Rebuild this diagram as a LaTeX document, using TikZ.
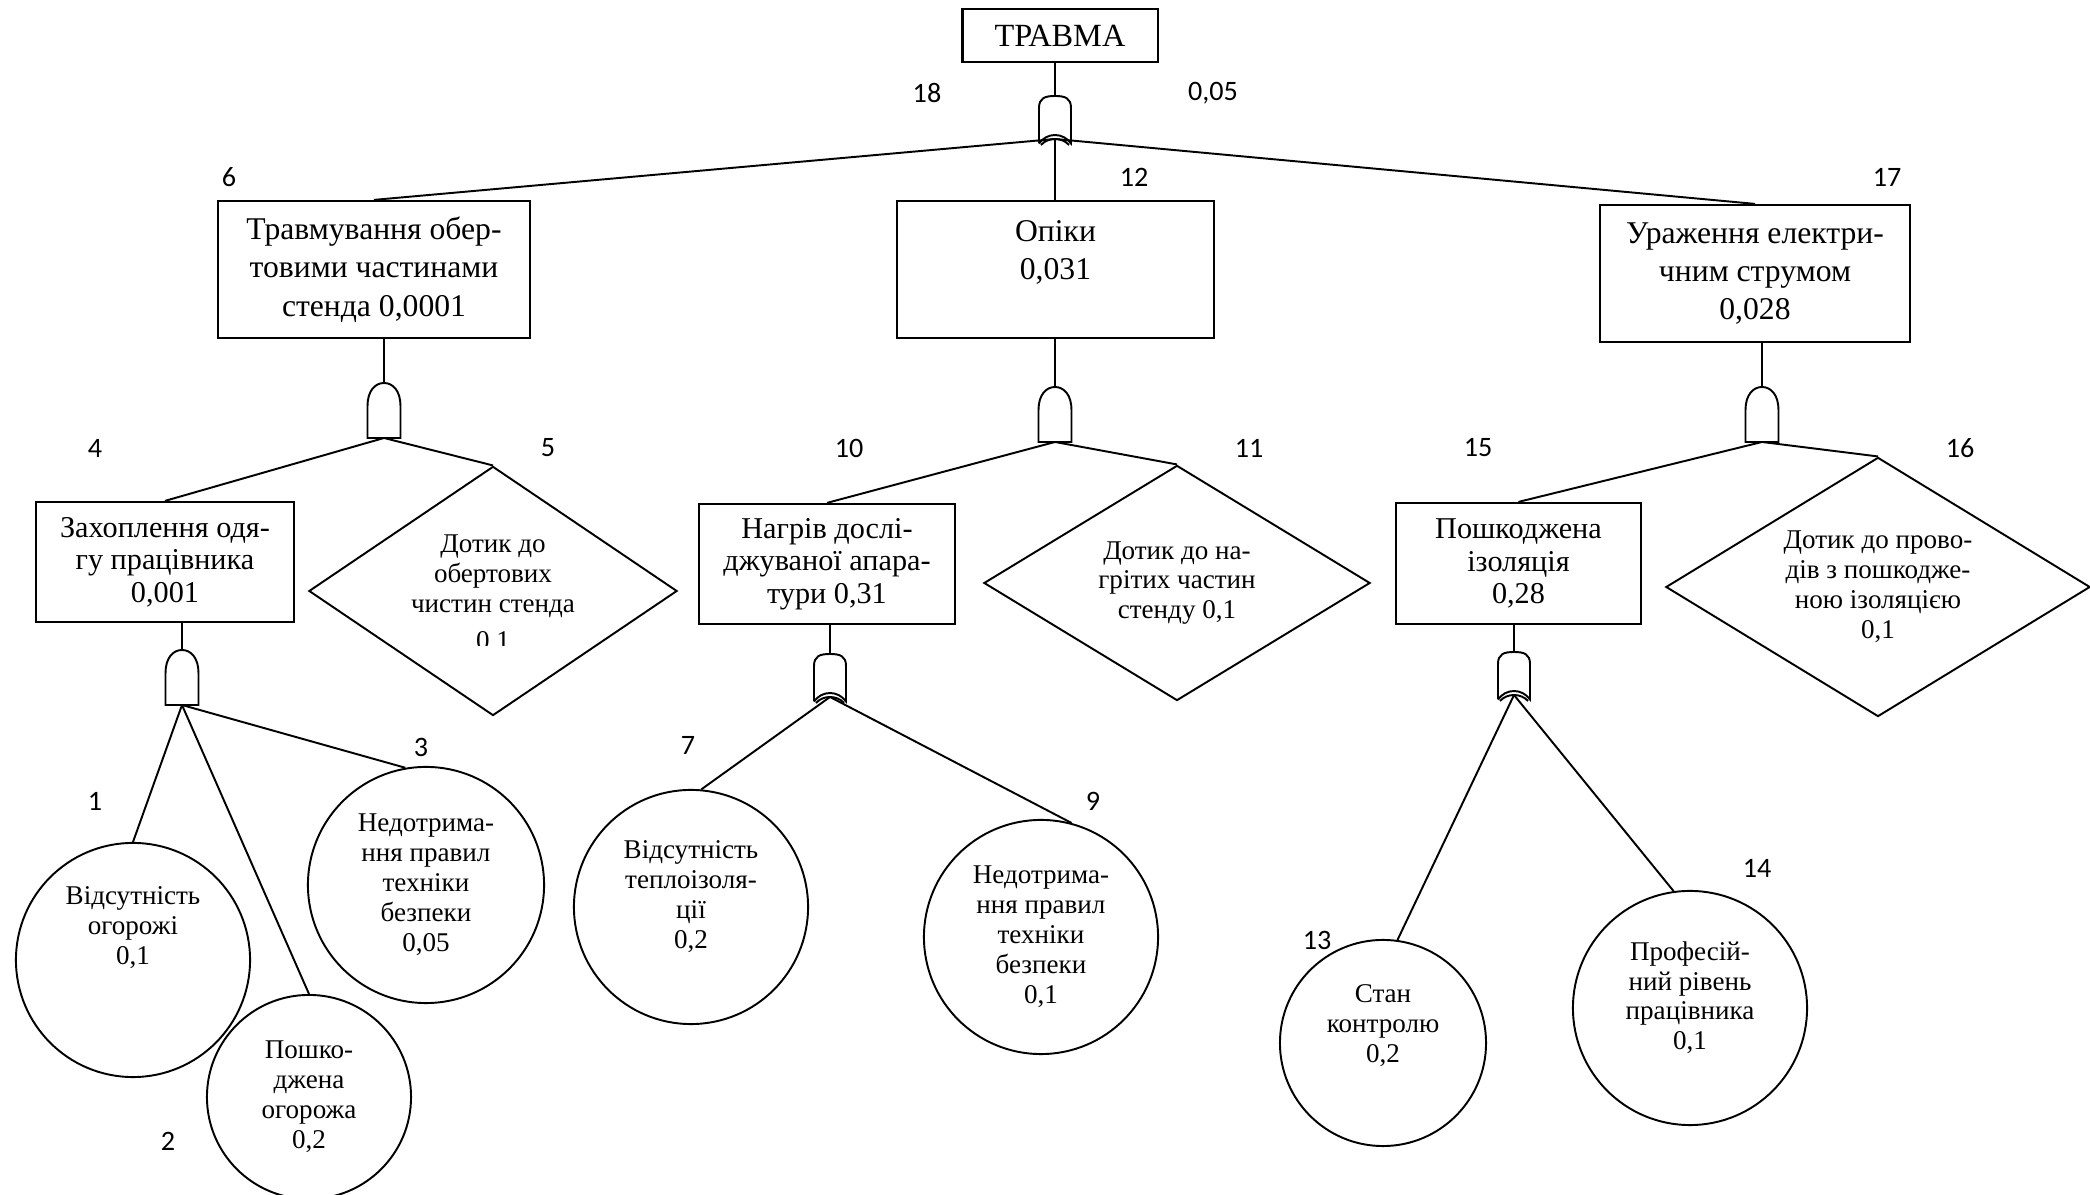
\documentclass[tikz,border=0pt]{standalone}
\usepackage{fontspec}
\setmainfont{Liberation Serif}
\newfontfamily\numfam{Carlito}
\usetikzlibrary{shapes.geometric}
\newcommand\boxfnt{\fontsize{9}{10.9}\selectfont}
\newcommand\boxfntb{\fontsize{8.6}{9.25}\selectfont}
\newcommand\cirfnt{\fontsize{7.7}{8.5}\selectfont}
\newcommand\numfnt{\numfam\fontsize{8}{9.6}\selectfont}
\newcommand\ttlfnt{\fontsize{9.2}{11}\selectfont}
\tikzset{
  evbox/.style={draw, rectangle, inner sep=0pt, align=center, line width=0.6pt},
  basic/.style={draw, circle, inner sep=0pt, align=center, font=\cirfnt},
  undev/.style={draw, diamond, inner sep=0pt, align=center, font=\cirfnt},
  num/.style={font=\numfnt, inner sep=0pt},
  andgate/.pic={
    \draw (-16.5,55) -- (-16.5,23) .. controls (-16.5,8) and (-9,0) .. (0,0)
          .. controls (9,0) and (16.5,8) .. (16.5,23) -- (16.5,55) -- cycle;
    \coordinate (-top) at (0,0);
    \coordinate (-out) at (0,55);
  },
  orgate/.pic={
    \draw (-16,47.5) -- (-16,12) .. controls (-16,2) and (-10,0) .. (0,0)
          .. controls (10,0) and (16,2) .. (16,12) -- (16,47.5)
          .. controls (8,36.2) and (-8,36.2) .. (-16,47.5);
    \draw (-14,49) .. controls (-7,41) and (7,41) .. (14,49);
    \coordinate (-top) at (0,0);
    \coordinate (-out) at (0,43);
  },
}
\begin{document}
\begin{tikzpicture}[x=0.01cm,y=-0.01cm,line width=0.55pt]
\useasboundingbox (0,0) rectangle (2090,1195);

% level 0
\node[evbox, font=\ttlfnt, minimum width=1.95cm, minimum height=0.53cm] (n18) at (1060,35.5) {ТРАВМА};
% level 1
\node[evbox, font=\boxfnt, minimum width=3.11cm, minimum height=1.37cm] (n6) at (374,269.5) {Травмування обер-\\товими частинами\\стенда 0,0001};
\node[evbox, font=\boxfnt, minimum width=3.17cm, minimum height=1.37cm] (n12) at (1055.5,269.5) {Опіки\\0,031\\[-3pt]\strut};
\node[evbox, font=\boxfnt, minimum width=3.10cm, minimum height=1.37cm] (n17) at (1755,273.5) {Ураження електри-\\чним струмом\\0,028};
% level 2
\node[evbox, font=\boxfntb, minimum width=2.58cm, minimum height=1.20cm] (n4) at (165,562) {Захоплення одя-\\гу працівника\\0,001};
\node[undev, minimum width=3.68cm, minimum height=2.49cm, aspect=1.48] (d5) at (493,591) {Дотик до\\обертових\\чистин стенда\\\phantom{0,1}};
\node[evbox, font=\boxfntb, minimum width=2.56cm, minimum height=1.20cm] (n10) at (827,564) {Нагрів дослі-\\джуваної апара-\\тури 0,31};
\node[undev, minimum width=3.86cm, minimum height=2.35cm, aspect=1.64] (d11) at (1177,583) {Дотик до на-\\грітих частин\\стенду 0,1};
\node[evbox, font=\boxfntb, minimum width=2.45cm, minimum height=1.21cm] (n15) at (1518.5,563.5) {Пошкоджена\\ізоляція\\0,28};
\node[undev, minimum width=4.24cm, minimum height=2.59cm, aspect=1.64] (d16) at (1878,587) {Дотик до прово-\\дів з пошкодже-\\ною ізоляцією\\0,1};
\begin{scope}
  \clip (440,600) rectangle (560,646);
  \node[font=\cirfnt, inner sep=0pt] (d5p) at (493,643) {0,1};
\end{scope}
% level 3
\node[basic, minimum size=2.34cm] (c1) at (133,960) {Відсутність\\огорожі\\0,1\\\strut\\\strut};
\node[basic, minimum size=2.04cm] (c2) at (309,1097) {Пошко-\\джена\\огорожа\\0,2};
\node[basic, minimum size=2.36cm] (c3) at (426,885) {Недотрима-\\ння правил\\техніки\\безпеки\\0,05};
\node[basic, minimum size=2.34cm] (c7) at (691,907) {Відсутність\\теплоізоля-\\ції\\0,2\\[-4pt]\strut};
\node[basic, minimum size=2.34cm] (c9) at (1041,937) {Недотрима-\\ння правил\\техніки\\безпеки\\0,1};
\node[basic, minimum size=2.06cm] (c13) at (1383,1043) {Стан\\контролю\\0,2\\\strut};
\node[basic, minimum size=2.34cm] (c14) at (1690,1008) {Професій-\\ний рівень\\працівника\\0,1\\[-4pt]\strut};

% gates
\pic (g18) at (1055,96) {orgate};
\pic (g6) at (384,383) {andgate};
\pic (g12) at (1055,387) {andgate};
\pic (g17) at (1762,387) {andgate};
\pic (g4) at (182,650) {andgate};
\pic (g10) at (830,654) {orgate};
\pic (g15) at (1514,652) {orgate};

% connectors
\draw (n18.south -| g18-top) -- (g18-top);
\draw (g18-out) -- (n6.north);
\draw (g18-out) -- (g18-out |- n12.north);
\draw (g18-out) -- (n17.north);
\draw (n6.south -| g6-top) -- (g6-top);
\draw (n12.south -| g12-top) -- (g12-top);
\draw (n17.south -| g17-top) -- (g17-top);
\draw (g6-out) -- (n4.north);
\draw (g6-out) -- (d5.north);
\draw (g12-out) -- (n10.north);
\draw (g12-out) -- (d11.north);
\draw (g17-out) -- (n15.north);
\draw (g17-out) -- (d16.north);
\draw (n4.south -| g4-top) -- (g4-top);
\draw (n10.south -| g10-top) -- (g10-top);
\draw (n15.south -| g15-top) -- (g15-top);
\draw (g4-out) -- (c1.north);
\draw (g4-out) -- (c2.north);
\draw (g4-out) -- (c3.100);
\draw (g10-out) -- (c7.85);
\draw (g10-out) -- (c9.75);
\draw (g15-out) -- (c13.82);
\draw (g15-out) -- (c14.98);

% numbers
\node[num] (l18) at (927,93) {18};
\node[num] (l005) at (1213,93) {0,05};
\node[num] (l6) at (229,177) {6};
\node[num] (l12) at (1134,177) {12};
\node[num] (l17) at (1887,177) {17};
\node[num] (l4) at (95,448) {4};
\node[num] (l5) at (548,448) {5};
\node[num] (l10) at (849,448) {10};
\node[num] (l11) at (1249,448) {11};
\node[num] (l15) at (1478,448) {15};
\node[num] (l16) at (1960,448) {16};
\node[num] (l1) at (95,801) {1};
\node[num] (l2) at (168,1141) {2};
\node[num] (l3) at (421,747) {3};
\node[num] (l7) at (688,745) {7};
\node[num] (l9) at (1093,801) {9};
\node[num] (l13) at (1317,940) {13};
\node[num] (l14) at (1757,868) {14};
\end{tikzpicture}
\end{document}
